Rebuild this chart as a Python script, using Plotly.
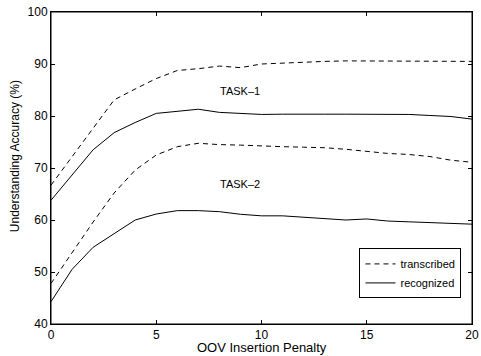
import plotly.graph_objects as go

penalty = list(range(0, 21))
task1_transcribed = [66.7, 72.2, 77.7, 83.1, 85.2, 87.2, 88.75, 89.1, 89.6, 89.3, 90.0, 90.2, 90.4, 90.5, 90.6, 90.6, 90.6, 90.5, 90.5, 90.5, 90.5]
task1_recognized = [63.8, 68.6, 73.5, 76.8, 78.75, 80.5, 80.9, 81.3, 80.7, 80.5, 80.3, 80.35, 80.4, 80.35, 80.35, 80.35, 80.35, 80.3, 80.1, 79.9, 79.4]
task2_transcribed = [47.8, 53.7, 59.6, 65.2, 69.6, 72.5, 74.1, 74.75, 74.5, 74.4, 74.2, 74.1, 74.0, 73.9, 73.6, 73.2, 72.8, 72.6, 72.2, 71.5, 71.1]
task2_recognized = [44.3, 50.5, 54.75, 57.4, 60.0, 61.15, 61.8, 61.8, 61.6, 61.1, 60.8, 60.8, 60.5, 60.2, 60.0, 60.2, 59.8, 59.65, 59.5, 59.3, 59.2]

task_labels = ["TASK\u20131", "TASK\u20132"]
task_label_x = [9, 9]
task_label_y = [84.9, 66.9]

x_title = "OOV Insertion Penalty"
y_title = "Understanding Accuracy (%)"

FONT = "Liberation Sans, Arial, Helvetica, sans-serif"
dash = "5px,4px"

fig = go.Figure()
fig.add_trace(go.Scatter(x=penalty, y=task1_transcribed, mode="lines", name="transcribed",
                         line=dict(color="black", width=1, dash=dash), legendgroup="t", showlegend=True))
fig.add_trace(go.Scatter(x=penalty, y=task1_recognized, mode="lines", name="recognized",
                         line=dict(color="black", width=1), legendgroup="r", showlegend=True))
fig.add_trace(go.Scatter(x=penalty, y=task2_transcribed, mode="lines", name="transcribed",
                         line=dict(color="black", width=1, dash=dash), legendgroup="t", showlegend=False))
fig.add_trace(go.Scatter(x=penalty, y=task2_recognized, mode="lines", name="recognized",
                         line=dict(color="black", width=1), legendgroup="r", showlegend=False))

for t, x, y in zip(task_labels, task_label_x, task_label_y):
    fig.add_annotation(x=x, y=y, text=t, showarrow=False, font=dict(size=11, color="black", family=FONT))

# axis titles as annotations for precise placement
fig.add_annotation(xref="paper", yref="paper", x=0.5, y=-0.0769, text=x_title, showarrow=False,
                   xanchor="center", yanchor="middle", borderpad=0,
                   font=dict(size=13, color="black", family=FONT))
fig.add_annotation(xref="paper", yref="paper", x=-0.0855, y=0.538, text=y_title, showarrow=False,
                   textangle=-90, xanchor="center", yanchor="middle",
                   font=dict(size=12, color="black", family=FONT))

# plot frame
fig.add_shape(type="rect", xref="paper", yref="paper", x0=0, y0=0, x1=1, y1=1,
              line=dict(color="black", width=1), layer="above")

axis_common = dict(showline=True, linecolor="black", linewidth=1, mirror="ticks", ticks="inside",
                   ticklen=4, tickcolor="black", showgrid=False, zeroline=False, automargin=False)

fig.update_layout(
    width=481, height=356,
    margin=dict(l=51, r=9, t=12, b=32),
    paper_bgcolor="white", plot_bgcolor="white",
    font=dict(family=FONT, color="black"),
    xaxis=dict(range=[0, 20], tickvals=[0, 5, 10, 15, 20], ticklabelstandoff=0,
               tickfont=dict(size=12, color="black", family=FONT), **axis_common),
    yaxis=dict(range=[40, 100], tickvals=[40, 50, 60, 70, 80, 90, 100],
               tickfont=dict(size=12, color="black", family=FONT), **axis_common),
    legend=dict(x=0.975, y=0.082, xanchor="right", yanchor="bottom",
                bordercolor="black", borderwidth=1, bgcolor="white",
                font=dict(size=11, family=FONT), tracegroupgap=0, itemwidth=30),
    showlegend=True,
)

fig.write_html("out.html", config={"displayModeBar": False},
               post_script="document.body.style.margin='0px';")
